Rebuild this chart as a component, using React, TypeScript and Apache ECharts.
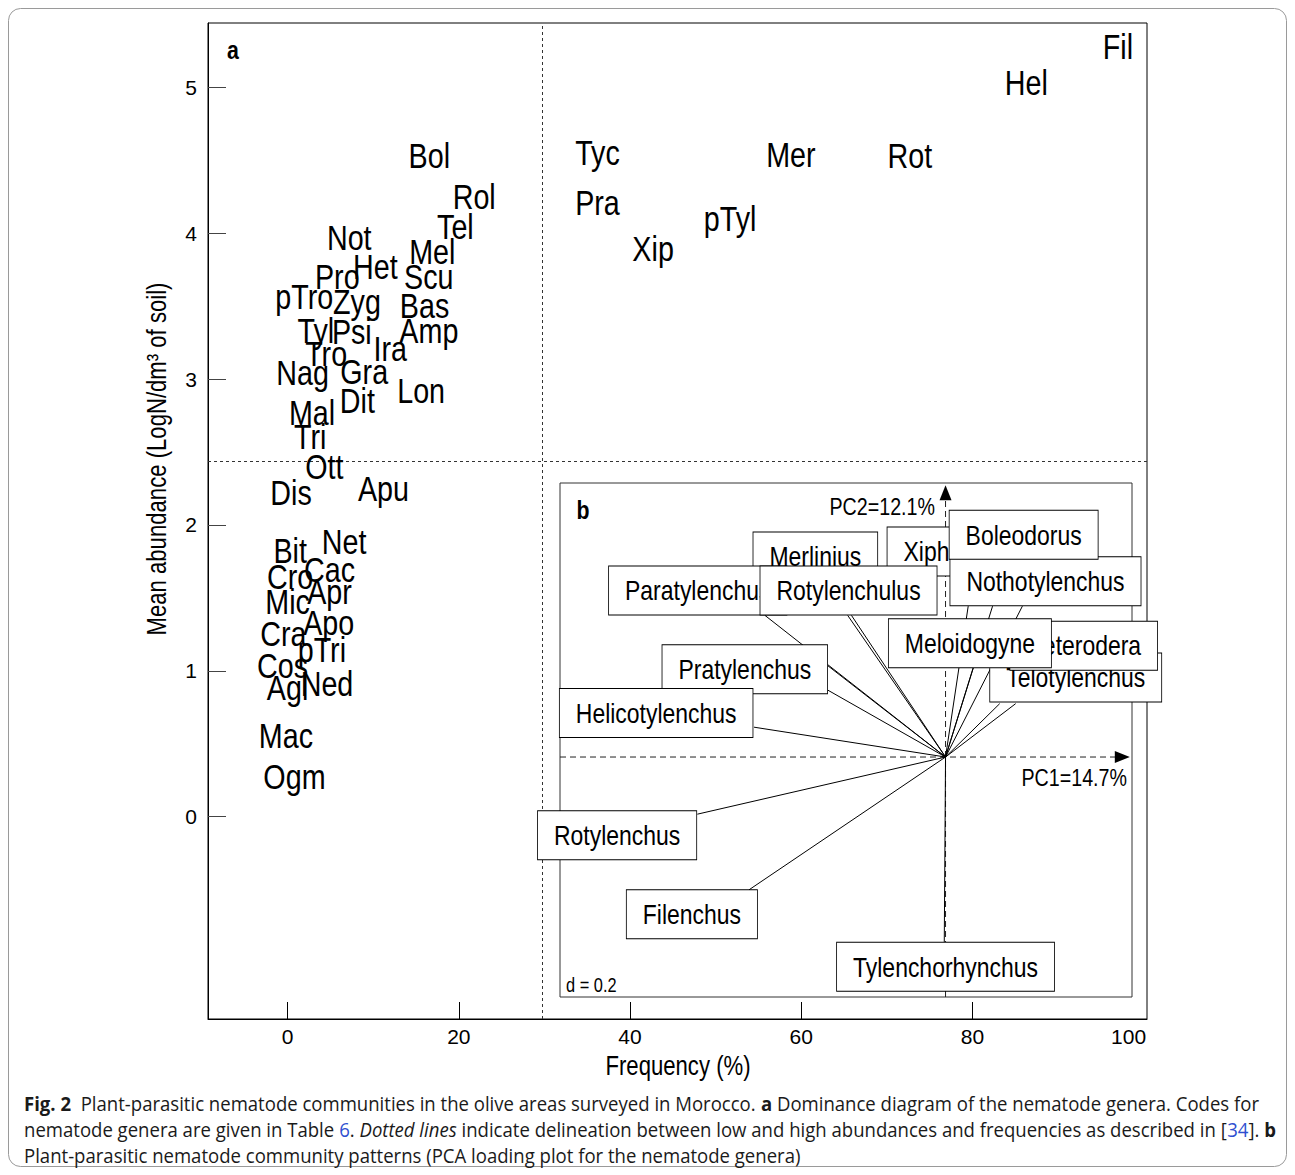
import React, { useEffect, useRef } from "react";
import * as echarts from "echarts";

const FONT = "'Liberation Sans', Arial, sans-serif";
const CAPTION_FONT = "'Open Sans', 'Noto Sans', sans-serif";
const NARROW = 0.82; // horizontal squeeze to mimic a narrow Helvetica

// ---- Panel a: dominance diagram ----
const genusCodes = [
  "Fil", "Hel", "Tyc", "Mer", "Rot", "Pra", "pTyl", "Xip",
  "Bol", "Rol", "Tel", "Not", "Mel", "Het", "Scu", "Pro", "pTro", "Zyg", "Bas",
  "Tyl", "Psi", "Amp", "Ira", "Tro", "Nag", "Gra", "Lon", "Dit", "Mal",
  "Tri", "Ott", "Dis", "Apu", "Net", "Bit", "Cac", "Cro", "Apr", "Mic",
  "Apo", "Cra", "pTri", "Cos", "Agl", "Ned", "Mac", "Ogm",
];
const genusFrequency = [
  97.0, 86.3, 36.2, 58.8, 72.7, 36.2, 51.7, 42.7,
  16.55, 21.8, 19.6, 7.2, 16.9, 10.25, 16.5, 5.8, 1.95, 8.1, 16.0,
  3.3, 7.5, 16.5, 12.0, 4.5, 1.75, 8.95, 15.6, 8.15, 2.85,
  2.65, 4.3, 0.4, 11.2, 6.6, 0.3, 4.9, 0.3, 4.9, 0.0,
  4.8, -0.5, 4.0, -0.6, 0.0, 4.6, -0.2, 0.8,
];
const genusAbundance = [
  5.28, 5.03, 4.55, 4.54, 4.53, 4.21, 4.10, 3.89,
  4.53, 4.25, 4.04, 3.97, 3.87, 3.77, 3.70, 3.70, 3.56, 3.53, 3.50,
  3.33, 3.32, 3.33, 3.21, 3.17, 3.04, 3.05, 2.92, 2.85, 2.77,
  2.60, 2.40, 2.22, 2.25, 1.88, 1.82, 1.69, 1.64, 1.54, 1.47,
  1.33, 1.25, 1.14, 1.03, 0.88, 0.91, 0.55, 0.27,
];

const xTickValues = [0, 20, 40, 60, 80];
const xLabelValues = [0, 20, 40, 60, 80, 100];
const yTickValues = [0, 1, 2, 3, 4, 5];

const frequencyThreshold = 29.7;
const abundanceThreshold = 2.44;

// ---- Panel b: PCA loading plot ----
const pcaArrowPC1 = [0.129, 0.167, 0.066, 0.054, 0.183, 0.112, -0.224, -0.430, -0.233, -0.280, -0.280, -0.456, -0.591, -0.468, -0.003];
const pcaArrowPC2 = [0.127, 0.127, 0.213, 0.359, 0.359, 0.359, 0.337, 0.337, 0.337, 0.217, 0.159, 0.071, -0.136, -0.316, -0.440];

const pcaLabelNames = [
  "Telotylenchus", "Heterodera", "Meloidogyne", "Xiphinema", "Nothotylenchus", "Boleodorus",
  "Merlinius", "Paratylenchus", "Rotylenchulus", "Pratylenchus", "Helicotylenchus",
  "Rotylenchus", "Filenchus", "Tylenchorhynchus",
];
const pcaLabelPC1 = [0.310, 0.329, 0.058, 0.029, 0.238, 0.186, -0.310, -0.590, -0.231, -0.478, -0.689, -0.782, -0.604, 0.000];
const pcaLabelPC2 = [0.189, 0.265, 0.271, 0.489, 0.418, 0.529, 0.477, 0.396, 0.396, 0.209, 0.105, -0.186, -0.374, -0.499];

const pc1AxisEnd = 0.421;
const pc2AxisEnd = 0.629;

export default function App() {
  const ref = useRef<HTMLDivElement>(null);

  useEffect(() => {
    document.body.style.margin = "0";
    document.body.style.overflow = "hidden";
    const chart = echarts.init(ref.current as HTMLDivElement, null, { renderer: "svg" });

    const capBase = { fontFamily: CAPTION_FONT, fontSize: 20, fill: "#1a1a1a" };
    const capRich = {
      n: { ...capBase },
      b: { ...capBase, fontWeight: "bold" },
      i: { ...capBase, fontStyle: "italic" },
      l: { ...capBase, fill: "#2f4fd0" },
    };
    const CAP_SCALE = 0.928;

    const narrowText = (x: number, y: number, text: string, size: number, align: string, extra: any = {}) => ({
      type: "text", x, y, scaleX: NARROW, z: 20, silent: true,
      style: { text, fontSize: size, fontFamily: FONT, fill: "#000", align, verticalAlign: "middle", ...extra },
    });

    const option: any = {
      animation: false,
      backgroundColor: "#fff",
      textStyle: { fontFamily: FONT },
      grid: [
        { left: 208, top: 23, width: 939, height: 996, show: true, borderColor: "#000", borderWidth: 1, backgroundColor: "transparent" },
        { left: 560, top: 483, width: 572, height: 514, show: true, borderColor: "#333", borderWidth: 1, backgroundColor: "#fff" },
      ],
      xAxis: [
        {
          gridIndex: 0, type: "value", min: -9.3, max: 100.4,
          axisLine: { show: true, onZero: false, lineStyle: { color: "#000", width: 1 } },
          axisTick: { show: true, inside: true, length: 17, customValues: xTickValues, lineStyle: { color: "#000" } },
          axisLabel: {
            customValues: xLabelValues, fontSize: 21, color: "#000", margin: 7, fontFamily: FONT,
            formatter: (v: number) => (v === 100 ? "{r|100}" : String(v)),
            rich: { r: { fontSize: 21, fontFamily: FONT, color: "#000", padding: [0, 30, 0, 0] } },
          },
          splitLine: { show: false },
        },
        {
          gridIndex: 1, type: "value", min: -0.918, max: 0.444, show: false,
        },
      ],
      yAxis: [
        {
          gridIndex: 0, type: "value", min: -1.388, max: 5.442,
          axisLine: { show: true, onZero: false, lineStyle: { color: "#000", width: 1 } },
          axisTick: { show: true, inside: true, length: 18, customValues: yTickValues, lineStyle: { color: "#444" } },
          axisLabel: { customValues: yTickValues, fontSize: 21, color: "#000", margin: 11, fontFamily: FONT },
          splitLine: { show: false },
        },
        {
          gridIndex: 1, type: "value", min: -0.571, max: 0.652, show: false,
        },
      ],
      series: [
        {
          type: "line", xAxisIndex: 0, yAxisIndex: 0, data: [], silent: true,
          markLine: {
            silent: true, symbol: "none", label: { show: false },
            lineStyle: { type: [3, 3], color: "#333", width: 1 },
            data: [{ xAxis: frequencyThreshold }, { yAxis: abundanceThreshold }],
          },
        },
        {
          type: "custom", xAxisIndex: 0, yAxisIndex: 0, silent: true, z: 5, clip: false,
          data: genusCodes.map((_, i) => [genusFrequency[i], genusAbundance[i]]),
          renderItem: (params: any, api: any) => {
            const p = api.coord([api.value(0), api.value(1)]);
            return {
              type: "text", x: p[0], y: p[1], scaleX: NARROW,
              style: {
                text: genusCodes[params.dataIndex], fontSize: 35, fontFamily: FONT, fill: "#000",
                align: "center", verticalAlign: "middle",
              },
            };
          },
        },
        {
          type: "line", xAxisIndex: 1, yAxisIndex: 1, silent: true, z: 6,
          lineStyle: { type: [6, 4], color: "#222", width: 1 },
          itemStyle: { color: "#000" }, symbol: "none", showSymbol: true,
          data: [
            { value: [-0.918, 0], symbol: "none" },
            { value: [pc1AxisEnd, 0], symbol: "triangle", symbolRotate: -90, symbolSize: [12, 15] },
          ],
        },
        {
          type: "line", xAxisIndex: 1, yAxisIndex: 1, silent: true, z: 6,
          lineStyle: { type: [6, 4], color: "#222", width: 1 },
          itemStyle: { color: "#000" }, symbol: "none", showSymbol: true,
          data: [
            { value: [0, -0.571], symbol: "none" },
            { value: [0, pc2AxisEnd], symbol: "triangle", symbolSize: [12, 15] },
          ],
        },
        {
          type: "custom", xAxisIndex: 1, yAxisIndex: 1, silent: true, z: 7, clip: false,
          data: pcaArrowPC1.map((u, i) => [u, pcaArrowPC2[i]]),
          renderItem: (params: any, api: any) => {
            const o = api.coord([0, 0]);
            const p = api.coord([api.value(0), api.value(1)]);
            return {
              type: "line",
              shape: { x1: o[0], y1: o[1], x2: p[0], y2: p[1] },
              style: { stroke: "#000", lineWidth: 1 },
            };
          },
        },
        {
          type: "custom", xAxisIndex: 1, yAxisIndex: 1, silent: true, z: 8, clip: false,
          data: pcaLabelNames.map((_, i) => [pcaLabelPC1[i], pcaLabelPC2[i]]),
          renderItem: (params: any, api: any) => {
            const p = api.coord([api.value(0), api.value(1)]);
            return {
              type: "text", x: p[0], y: p[1], z2: params.dataIndex, scaleX: NARROW,
              style: {
                text: pcaLabelNames[params.dataIndex], fontSize: 28, fontFamily: FONT, fill: "#000",
                align: "center", verticalAlign: "middle",
                backgroundColor: "#fff", borderColor: "#000", borderWidth: 1, padding: [10, 19.5, 10, 19.5],
              },
            };
          },
        },
      ],
      graphic: [
        {
          type: "rect", z: 0, silent: true,
          shape: { x: 8.5, y: 8.5, width: 1278, height: 1158, r: 12 },
          style: { fill: "none", stroke: "#9a9a9a", lineWidth: 1 },
        },
        narrowText(233, 50, "a", 26, "center", { fontWeight: "bold" }),
        narrowText(583, 510, "b", 26, "center", { fontWeight: "bold" }),
        narrowText(935, 507, "PC2=12.1%", 24, "right"),
        narrowText(1127, 778, "PC1=14.7%", 24, "right"),
        narrowText(566, 985, "d = 0.2", 20, "left"),
        narrowText(678, 1066, "Frequency (%)", 27, "center"),
        {
          type: "text", x: 157, y: 459, rotation: Math.PI / 2, scaleX: NARROW, z: 20, silent: true,
          style: {
            text: "Mean abundance (LogN/dm\u00b3 of soil)", fontSize: 27, fontFamily: FONT, fill: "#000",
            align: "center", verticalAlign: "middle",
          },
        },
        {
          type: "text", x: 24, y: 1103, scaleX: CAP_SCALE, z: 20, silent: true,
          style: {
            text: "{b|Fig. 2}{n|  Plant-parasitic nematode communities in the olive areas surveyed in Morocco. }{b|a}{n| Dominance diagram of the nematode genera. Codes for}",
            rich: capRich, ...capBase, align: "left", verticalAlign: "middle",
          },
        },
        {
          type: "text", x: 24, y: 1129, scaleX: CAP_SCALE, z: 20, silent: true,
          style: {
            text: "{n|nematode genera are given in Table }{l|6}{n|. }{i|Dotted lines}{n| indicate delineation between low and high abundances and frequencies as described in [}{l|34}{n|]. }{b|b}",
            rich: capRich, ...capBase, align: "left", verticalAlign: "middle",
          },
        },
        {
          type: "text", x: 24, y: 1155, scaleX: CAP_SCALE, z: 20, silent: true,
          style: {
            text: "{n|Plant-parasitic nematode community patterns (PCA loading plot for the nematode genera)}",
            rich: capRich, ...capBase, align: "left", verticalAlign: "middle",
          },
        },
      ],
    };

    chart.setOption(option);
    return () => chart.dispose();
  }, []);

  return <div ref={ref} style={{ width: 1295, height: 1175 }} />;
}
